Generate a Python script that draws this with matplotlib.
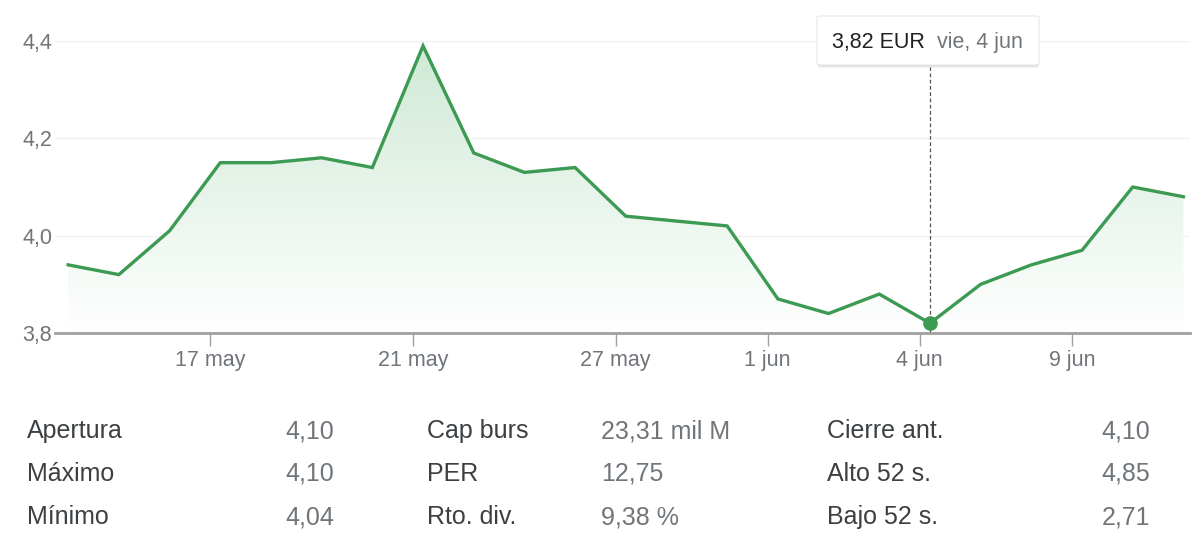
import numpy as np
import matplotlib.pyplot as plt
from matplotlib.colors import LinearSegmentedColormap
from matplotlib.patches import FancyBboxPatch

plt.rcParams['font.family'] = ['Liberation Sans', 'DejaVu Sans']

# trading days and closing prices (EUR)
dates = ['12 may', '13 may', '14 may', '17 may', '18 may', '19 may', '20 may', '21 may',
         '24 may', '25 may', '26 may', '27 may', '28 may', '31 may', '1 jun', '2 jun',
         '3 jun', '4 jun', '7 jun', '8 jun', '9 jun', '10 jun', '11 jun']
prices = [3.94, 3.92, 4.01, 4.15, 4.15, 4.16, 4.14, 4.39, 4.17, 4.13, 4.14, 4.04,
          4.03, 4.02, 3.87, 3.84, 3.88, 3.82, 3.90, 3.94, 3.97, 4.10, 4.08]
tick_dates = ['17 may', '21 may', '27 may', '1 jun', '4 jun', '9 jun']
y_ticks = [3.8, 4.0, 4.2, 4.4]
y_labels = ['3,8', '4,0', '4,2', '4,4']

hover_date = '4 jun'
hover_price = '3,82 EUR'
hover_label = 'vie, 4 jun'

stats_col1 = ['Apertura', 'Máximo', 'Mínimo']
stats_val1 = ['4,10', '4,10', '4,04']
stats_col2 = ['Cap burs', 'PER', 'Rto. div.']
stats_val2 = ['23,31 mil M', '12,75', '9,38 %']
stats_col3 = ['Cierre ant.', 'Alto 52 s.', 'Bajo 52 s.']
stats_val3 = ['4,10', '4,85', '2,71']

GREEN = '#3c9a52'
GREY = '#70757a'
DARK = '#3c4043'

W, H = 1200, 542


def fx(x):
    return x / W


def fy(y):
    return 1 - y / H


fig = plt.figure(figsize=(12, 5.42), dpi=100)
ax = fig.add_axes([fx(55), fy(333), (1190 - 55) / W, (333 - 41) / H])

x = np.arange(len(prices))
ax.set_xlim(-0.26, 22.13)
ax.set_ylim(3.8, 4.4)

# gradient under the line
fill = ax.fill_between(x, prices, 3.8, color='none')
cmap = LinearSegmentedColormap.from_list('g', ['#ffffff', '#cfe9d6'])
grad = np.linspace(0, 1, 256).reshape(-1, 1)
img = ax.imshow(grad, cmap=cmap, aspect='auto', origin='lower',
                extent=[x[0], x[-1], 3.8, max(prices)], zorder=1)
img.set_clip_path(fill.get_paths()[0], transform=ax.transData)

ax.plot(x, prices, color=GREEN, lw=2.4, zorder=3, solid_joinstyle='miter')

for yv in y_ticks[1:]:
    ax.axhline(yv, color='#f1f1f1', lw=1, zorder=0)

for s in ['top', 'right', 'left']:
    ax.spines[s].set_visible(False)
ax.spines['bottom'].set_color('#a0a0a0')
ax.spines['bottom'].set_linewidth(2)

ax.set_yticks(y_ticks)
ax.set_yticklabels(y_labels)
ax.tick_params(axis='y', length=0, pad=2, labelsize=15.5, labelcolor=GREY)

ax.set_xticks([dates.index(d) - 0.2 for d in tick_dates])
ax.set_xticklabels(tick_dates)
ax.tick_params(axis='x', length=9, width=1, color='#a0a0a0', pad=3,
               labelsize=15.5, labelcolor=GREY)

# hover marker
hi = dates.index(hover_date)
ax.axvline(hi, ymin=0, ymax=(333 - 66) / (333 - 41), color='#555555',
           lw=0.9, ls=(0, (3, 2)), zorder=2, clip_on=False)
ax.scatter([hi], [prices[hi]], s=90, color=GREEN, zorder=4, clip_on=False)

# tooltip
for off, a in [(3, 0.25), (2, 0.35), (1, 0.5)]:
    sh = FancyBboxPatch((fx(818), fy(65 + off)), (1039 - 818) / W, (65 - 16) / H,
                        boxstyle='round,pad=0,rounding_size=0.003',
                        transform=fig.transFigure, facecolor='#d0d0d0',
                        edgecolor='none', alpha=a)
    fig.patches.append(sh)
box = FancyBboxPatch((fx(817), fy(65)), (1039 - 817) / W, (65 - 16) / H,
                     boxstyle='round,pad=0,rounding_size=0.003',
                     transform=fig.transFigure, facecolor='white',
                     edgecolor='#e6e6e6', lw=0.8)
fig.patches.append(box)
fig.text(fx(832), fy(48), hover_price, fontsize=15.5, color='#202124', va='baseline')
fig.text(fx(937), fy(48), hover_label, fontsize=15.5, color=GREY, va='baseline')

# stats table
rows_y = [438, 481, 524]
for i, yy in enumerate(rows_y):
    fig.text(fx(27), fy(yy), stats_col1[i], fontsize=18, color=DARK, va='baseline')
    fig.text(fx(334), fy(yy), stats_val1[i], fontsize=18, color=GREY, va='baseline', ha='right')
    fig.text(fx(427), fy(yy), stats_col2[i], fontsize=18, color=DARK, va='baseline')
    fig.text(fx(601), fy(yy), stats_val2[i], fontsize=18, color=GREY, va='baseline')
    fig.text(fx(827), fy(yy), stats_col3[i], fontsize=18, color=DARK, va='baseline')
    fig.text(fx(1150), fy(yy), stats_val3[i], fontsize=18, color=GREY, va='baseline', ha='right')

fig.savefig('out.png', dpi=100)
